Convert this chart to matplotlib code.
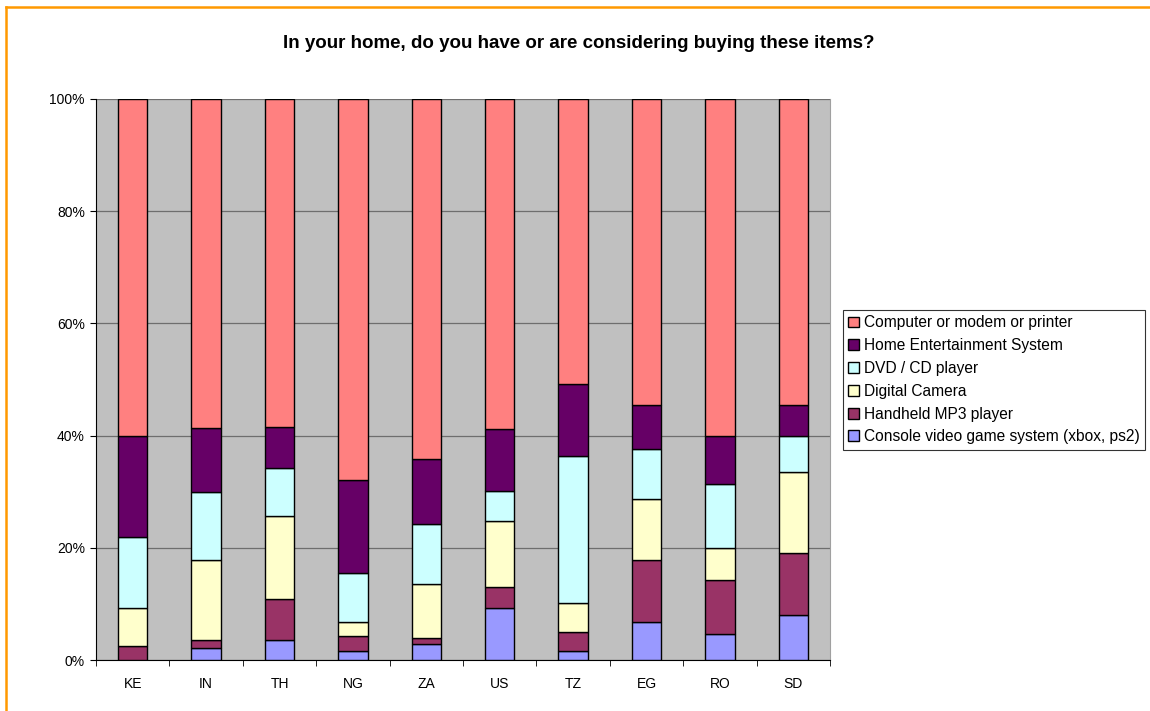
import numpy as np
import matplotlib.pyplot as plt
from matplotlib.lines import Line2D

plt.rcParams['font.family'] = ['Liberation Sans', 'DejaVu Sans']

countries = ['KE', 'IN', 'TH', 'NG', 'ZA', 'US', 'TZ', 'EG', 'RO', 'SD']

# shares per country (%), bottom of the stack first
console = [0.0, 2.1, 3.6, 1.6, 2.8, 9.2, 1.6, 6.8, 4.6, 8.1]
mp3 = [2.5, 1.5, 7.3, 2.6, 1.1, 3.9, 3.4, 11.0, 9.6, 11.0]
camera = [6.8, 14.3, 14.7, 2.6, 9.7, 11.7, 5.1, 11.0, 5.7, 14.5]
dvd = [12.7, 12.0, 8.7, 8.7, 10.6, 5.4, 26.3, 8.9, 11.5, 6.3]
home_ent = [17.9, 11.5, 7.3, 16.5, 11.7, 10.9, 12.8, 7.9, 8.6, 5.5]
computer = [60.1, 58.6, 58.4, 68.0, 64.1, 58.9, 50.8, 54.6, 60.0, 54.6]

series = [
    ('Console video game system (xbox, ps2)', console, '#9999FF'),
    ('Handheld MP3 player', mp3, '#993366'),
    ('Digital Camera', camera, '#FFFFCC'),
    ('DVD / CD player', dvd, '#CCFFFF'),
    ('Home Entertainment System', home_ent, '#660066'),
    ('Computer or modem or printer', computer, '#FF8080'),
]

fig = plt.figure(figsize=(11.5, 7.11), dpi=100)
ax = fig.add_axes([96 / 1150, 51 / 711, 734 / 1150, 561 / 711])
ax.set_facecolor('#C0C0C0')

x = np.arange(len(countries))
totals = np.sum([s[1] for s in series], axis=0)
bottom = np.zeros(len(countries))
handles = []
for name, vals, col in series:
    pct = np.array(vals) / totals * 100
    b = ax.bar(x, pct, width=0.4, bottom=bottom, color=col,
               edgecolor='black', linewidth=1.0, label=name, zorder=3)
    handles.append(b)
    bottom += pct

ax.set_xlim(-0.5, len(countries) - 0.5)
ax.set_ylim(0, 100)
ax.set_yticks(np.arange(0, 101, 20))
ax.set_yticklabels([f'{v}%' for v in range(0, 101, 20)], fontsize=10)
ax.yaxis.grid(True, color='#6E6E6E', linewidth=0.9, zorder=1)
ax.set_axisbelow(True)

ax.set_xticks(x)
ax.set_xticklabels(countries, fontsize=10)
ax.set_xticks(np.arange(-0.5, len(countries)), minor=True)
ax.tick_params(axis='x', which='major', length=0, pad=12)
ax.tick_params(axis='x', which='minor', length=4, direction='out', color='black')
ax.tick_params(axis='y', length=4, direction='out', pad=4, color='black')

ax.spines['top'].set_visible(False)
ax.spines['right'].set_color('#A0A0A0')
ax.spines['left'].set_color('black')
ax.spines['bottom'].set_color('black')

fig.text(579 / 1150, 1 - 44 / 711, 'In your home, do you have or are considering buying these items?',
         ha='center', va='center', fontsize=13.5, fontweight='bold')

leg = fig.legend(handles[::-1], [s[0] for s in series][::-1],
                 loc='upper left', bbox_to_anchor=(843 / 1150, 1 - 310 / 711),
                 bbox_transform=fig.transFigure, borderaxespad=0,
                 fontsize=11.2, frameon=True, fancybox=False, shadow=False,
                 handlelength=0.7, handleheight=0.7, handletextpad=0.3,
                 labelspacing=0.5, borderpad=0.35)
leg.get_frame().set_edgecolor('black')
leg.get_frame().set_linewidth(0.8)

# orange outer frame (top and left edges)
fig.add_artist(Line2D([5.5 / 1150, 1], [1 - 6.5 / 711, 1 - 6.5 / 711],
                      transform=fig.transFigure, color='#FF9900', linewidth=1.8))
fig.add_artist(Line2D([5.5 / 1150, 5.5 / 1150], [0, 1 - 6.5 / 711],
                      transform=fig.transFigure, color='#FF9900', linewidth=1.8))

fig.savefig('out.png', dpi=100)
